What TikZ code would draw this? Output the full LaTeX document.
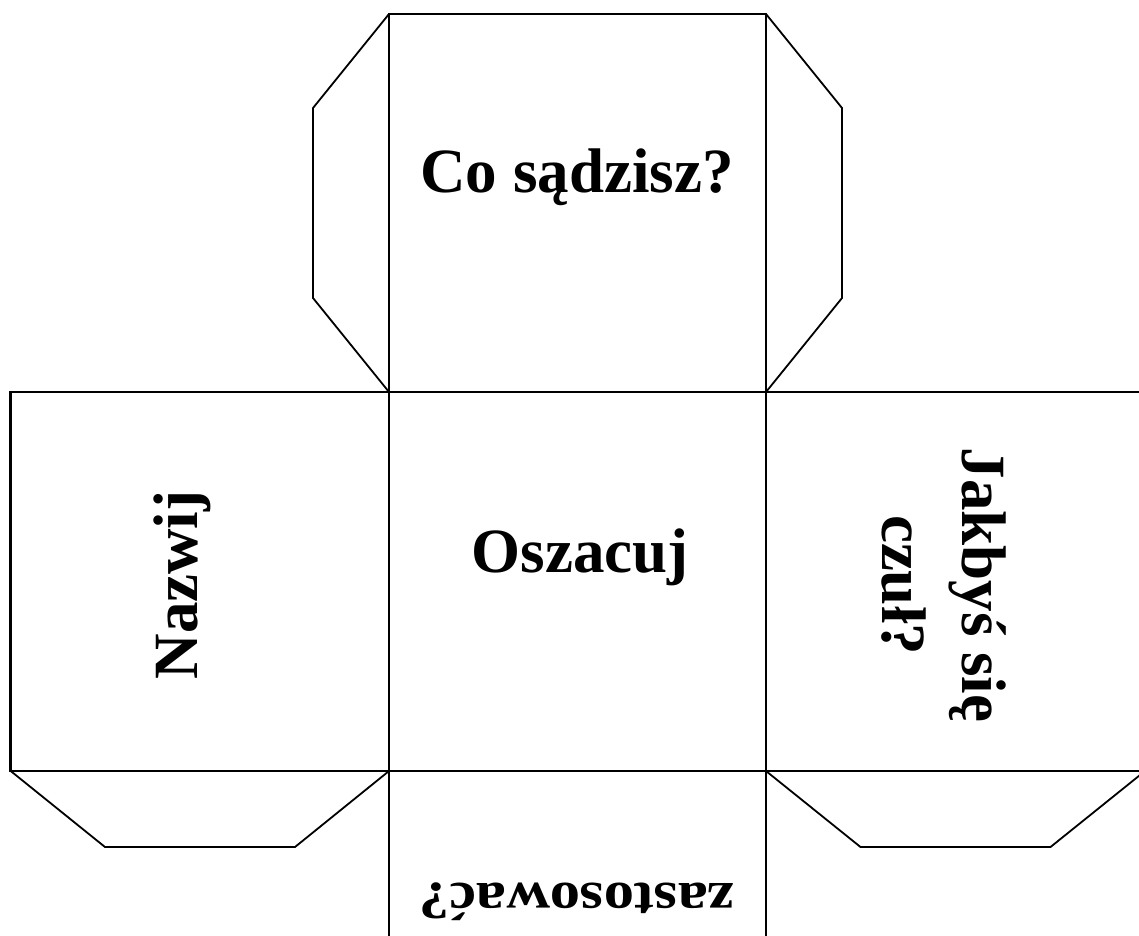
\documentclass[tikz,border=0pt]{standalone}
\usepackage{fontspec}
\setmainfont{Liberation Serif}
\begin{document}
\begin{tikzpicture}[x=1pt,y=-1pt,
  face/.style={line width=2.8pt,line cap=rect},
  flap/.style={line width=1.8pt,line join=miter},
  lbl/.style={font=\fontsize{63}{80}\selectfont\bfseries,inner sep=0pt}]
\useasboundingbox[fill=white] (0,0) rectangle (1139,935);
\clip (0,0) rectangle (1139,935);
% face corners
\coordinate (A) at (389,14);
\coordinate (B) at (766,14);
\coordinate (L0) at (10.7,392);
\coordinate (L1) at (389,392);
\coordinate (R1) at (766,392);
\coordinate (R2) at (1145,392);
\coordinate (L0b) at (10.7,771);
\coordinate (L1b) at (389,771);
\coordinate (R1b) at (766,771);
\coordinate (R2b) at (1145,771);
\coordinate (Db) at (389,1149);
\coordinate (Eb) at (766,1149);
% flaps
\draw[flap] (A) -- (313,108) -- (313,298) -- (L1);
\draw[flap] (B) -- (842,108) -- (842,298) -- (R1);
\draw[flap] (L0b) -- (105,847) -- (295,847) -- (L1b);
\draw[flap] (R1b) -- (860.5,847) -- (1050.5,847) -- (R2b);
% faces
\draw[face] (A) -- (B);
\draw[face] (L0) -- (R2);
\draw[face] (L0b) -- (R2b);
\draw[face] (A) -- (Db);
\draw[face] (B) -- (Eb);
\draw[face] (L0) -- (L0b);
\draw[face] (R2) -- (R2b);
% labels
\node[lbl,anchor=base] (t1) at (577,192) {Co sądzisz?};
\node[lbl,anchor=base] (t2) at (580,572) {Oszacuj};
\node[lbl,rotate=90,anchor=base] (t3) at (197,585) {Nazwij};
\node[lbl,rotate=-90,align=center] (t4) at (944,585) {Jakbyś się\\czuł?};
\node[lbl,rotate=180,anchor=base,xscale=0.96,yscale=0.85] (t5) at (577,883) {zastosować?};
\end{tikzpicture}
\end{document}
